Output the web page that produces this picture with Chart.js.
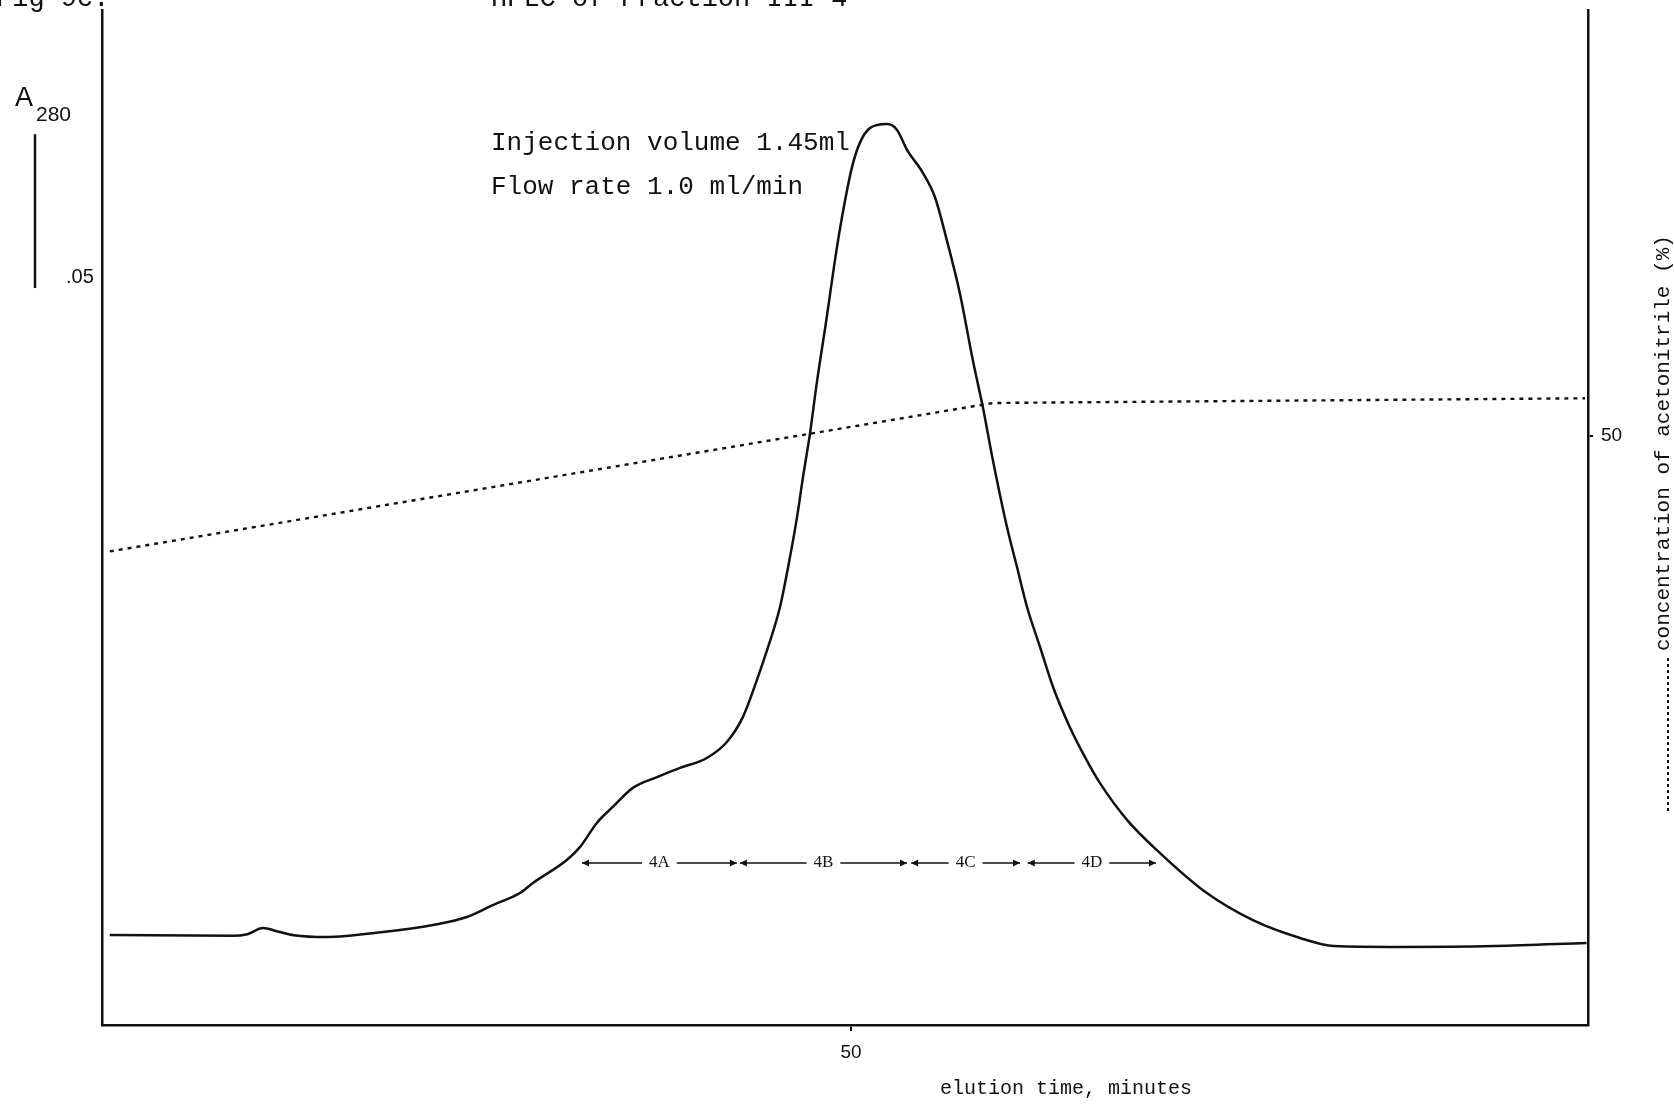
<!DOCTYPE html>
<html lang="en">
<head>
    <meta charset="UTF-8">
    <title>HPLC of Fraction III-4</title>
    <script src="https://cdn.jsdelivr.net/npm/chart.js"></script>
    <style>
        body { margin: 0; background: #fff; }
        canvas { display: block; }
    </style>
</head>
<body>
    <canvas id="hplc" width="1674" height="1106"></canvas>

    <script>
        // elution time (min) and A280
        const traceTime = [30.05, 33.36, 33.75, 34.17, 34.60, 35.00, 35.89, 37.40, 38.75, 39.66, 40.36, 41.09, 41.44,
            42.36, 42.71, 43.16, 43.59, 44.13, 44.78, 45.40, 46.12, 46.66, 47.09, 47.47, 47.77, 48.09, 48.36, 48.55,
            48.71, 48.90, 49.08, 49.35, 49.57, 49.76, 50.03, 50.24, 50.51, 50.97, 51.24, 51.51, 51.94, 52.26, 52.58,
            52.93, 53.28, 53.55, 53.82, 54.20, 54.47, 54.74, 55.09, 55.44, 55.89, 56.30, 56.70, 57.43, 58.32, 59.58,
            60.82, 62.09, 63.00, 64.78, 67.34, 69.80];
        const traceA280 = [-0.0007, -0.0010, -0.0005, 0.0015, 0.0003, -0.0008, -0.0014, 0.0002, 0.0025, 0.0051, 0.0090,
            0.0129, 0.0162, 0.0237, 0.0279, 0.0357, 0.0409, 0.0471, 0.0506, 0.0536, 0.0568, 0.0620, 0.0701, 0.0822,
            0.0929, 0.1059, 0.1222, 0.1352, 0.1482, 0.1625, 0.1787, 0.2002, 0.2187, 0.2327, 0.2490, 0.2568, 0.2616,
            0.2629, 0.2610, 0.2545, 0.2470, 0.2392, 0.2252, 0.2080, 0.1862, 0.1709, 0.1537, 0.1319, 0.1189, 0.1059,
            0.0929, 0.0799, 0.0669, 0.0571, 0.0487, 0.0367, 0.0259, 0.0129, 0.0041, -0.0017, -0.0043, -0.0046,
            -0.0043, -0.0033];

        // acetonitrile gradient (%)
        const gradientTime = [30.05, 53.82, 69.76];
        const gradientPct = [40.2, 52.8, 53.2];

        // collected fractions
        const fractionNames = ['4A', '4B', '4C', '4D'];
        const fractionStart = [42.76, 47.01, 51.62, 54.76];
        const fractionEnd = [46.93, 51.51, 54.55, 58.21];
        const fractionLevel = 0.0227;

        const xTicks = [50];
        const y2Ticks = [50];
        const scaleBarBase = 0.2096;
        const scaleBarSize = 0.05;

        const figHeading = 'Fig 9c.';
        const chartTitle = 'HPLC of Fraction III-4';
        const noteLines = ['Injection volume 1.45ml', 'Flow rate 1.0 ml/min'];
        const xTitle = 'elution time, minutes';
        const y2Title = 'concentration of acetonitrile (%)';

        const ink = '#111';
        const mono = '"Liberation Mono", "DejaVu Sans Mono", monospace';
        const sans = '"Liberation Sans", Arial, sans-serif';

        const extras = {
            id: 'extras',
            afterDraw(chart) {
                const { ctx, scales: { x, y } } = chart;
                ctx.save();
                ctx.fillStyle = ink;
                ctx.strokeStyle = ink;
                ctx.textBaseline = 'alphabetic';

                // heading, cut off by the top of the scan
                ctx.font = '27px ' + mono;
                ctx.fillText(figHeading, -4, 6);
                ctx.fillText(chartTitle, 491, 6);

                // A280 with its .05 scale bar
                ctx.font = '27px ' + sans;
                ctx.fillText('A', 15, 106);
                ctx.font = '21px ' + sans;
                ctx.fillText('280', 36, 121);
                const b0 = y.getPixelForValue(scaleBarBase);
                const b1 = y.getPixelForValue(scaleBarBase + scaleBarSize);
                ctx.lineWidth = 2.5;
                ctx.beginPath();
                ctx.moveTo(35, b1);
                ctx.lineTo(35, b0);
                ctx.stroke();
                ctx.font = '20px ' + sans;
                ctx.fillText('.05', 66, b0 - 5);

                // run conditions
                ctx.font = '26px ' + mono;
                ctx.fillText(noteLines[0], 491, 150);
                ctx.fillText(noteLines[1], 491, 194);

                // fraction arrows
                const ay = y.getPixelForValue(fractionLevel);
                ctx.font = '17px "Liberation Serif", serif';
                ctx.textAlign = 'center';
                ctx.textBaseline = 'middle';
                ctx.lineWidth = 1.5;
                fractionNames.forEach((name, i) => {
                    const xa = x.getPixelForValue(fractionStart[i]);
                    const xb = x.getPixelForValue(fractionEnd[i]);
                    const mid = (xa + xb) / 2;
                    const gap = ctx.measureText(name).width / 2 + 7;
                    ctx.beginPath();
                    ctx.moveTo(xa, ay); ctx.lineTo(mid - gap, ay);
                    ctx.moveTo(mid + gap, ay); ctx.lineTo(xb, ay);
                    ctx.stroke();
                    ctx.beginPath();
                    ctx.moveTo(xa, ay); ctx.lineTo(xa + 7, ay - 3.5); ctx.lineTo(xa + 7, ay + 3.5); ctx.closePath();
                    ctx.moveTo(xb, ay); ctx.lineTo(xb - 7, ay - 3.5); ctx.lineTo(xb - 7, ay + 3.5); ctx.closePath();
                    ctx.fill();
                    ctx.fillText(name, mid, ay);
                });

                // x axis title
                ctx.textAlign = 'left';
                ctx.textBaseline = 'alphabetic';
                ctx.font = '20px ' + mono;
                ctx.fillText(xTitle, 940, 1094);

                // right axis title with its dotted key, reading upwards
                ctx.translate(1663, 811);
                ctx.rotate(-Math.PI / 2);
                ctx.lineWidth = 2;
                ctx.setLineDash([3, 3]);
                ctx.beginPath();
                ctx.moveTo(0, 5);
                ctx.lineTo(156, 5);
                ctx.stroke();
                ctx.setLineDash([]);
                ctx.font = '21px ' + mono;
                ctx.textBaseline = 'middle';
                ctx.fillText(y2Title, 160, 0);
                ctx.restore();
            }
        };

        new Chart(document.getElementById('hplc').getContext('2d'), {
            type: 'line',
            data: {
                datasets: [{
                    label: 'A280',
                    data: traceTime.map((t, i) => ({ x: t, y: traceA280[i] })),
                    borderColor: ink,
                    borderWidth: 2.5,
                    pointRadius: 0,
                    cubicInterpolationMode: 'monotone',
                    yAxisID: 'y'
                }, {
                    label: 'acetonitrile',
                    data: gradientTime.map((t, i) => ({ x: t, y: gradientPct[i] })),
                    borderColor: ink,
                    borderWidth: 2.4,
                    borderDash: [4, 5],
                    pointRadius: 0,
                    tension: 0,
                    yAxisID: 'y2'
                }]
            },
            options: {
                responsive: false,
                animation: false,
                devicePixelRatio: 1,
                layout: { padding: { top: 10, left: 0, right: 0, bottom: 0 } },
                plugins: { legend: { display: false }, tooltip: { enabled: false } },
                scales: {
                    x: {
                        type: 'linear',
                        position: 'bottom',
                        min: 29.84,
                        max: 69.84,
                        afterBuildTicks: ax => { ax.ticks = xTicks.map(v => ({ value: v })); },
                        afterFit: ax => { ax.height = 81; ax.paddingLeft = 0; ax.paddingRight = 0; },
                        grid: { display: true, drawOnChartArea: false, drawTicks: true, tickLength: 6, color: ink, lineWidth: 2 },
                        border: { display: true, color: ink, width: 2.5 },
                        ticks: { color: ink, font: { family: 'Liberation Sans', size: 19 }, padding: 10, maxRotation: 0, autoSkip: false }
                    },
                    y: {
                        position: 'left',
                        min: -0.03,
                        max: 0.30,
                        afterFit: ax => { ax.width = 102; ax.paddingTop = 0; ax.paddingBottom = 0; },
                        grid: { display: false },
                        border: { display: true, color: ink, width: 2.5 },
                        ticks: { display: false }
                    },
                    y2: {
                        position: 'right',
                        min: 0,
                        max: 86.16,
                        afterBuildTicks: ax => { ax.ticks = y2Ticks.map(v => ({ value: v })); },
                        afterFit: ax => { ax.width = 86; ax.paddingTop = 0; ax.paddingBottom = 0; },
                        grid: { display: true, drawOnChartArea: false, drawTicks: true, tickLength: 5, color: ink, lineWidth: 2 },
                        border: { display: true, color: ink, width: 2.5 },
                        ticks: { color: ink, font: { family: 'Liberation Sans', size: 19 }, padding: 8, autoSkip: false }
                    }
                }
            },
            plugins: [extras]
        });
    </script>
</body>
</html>
